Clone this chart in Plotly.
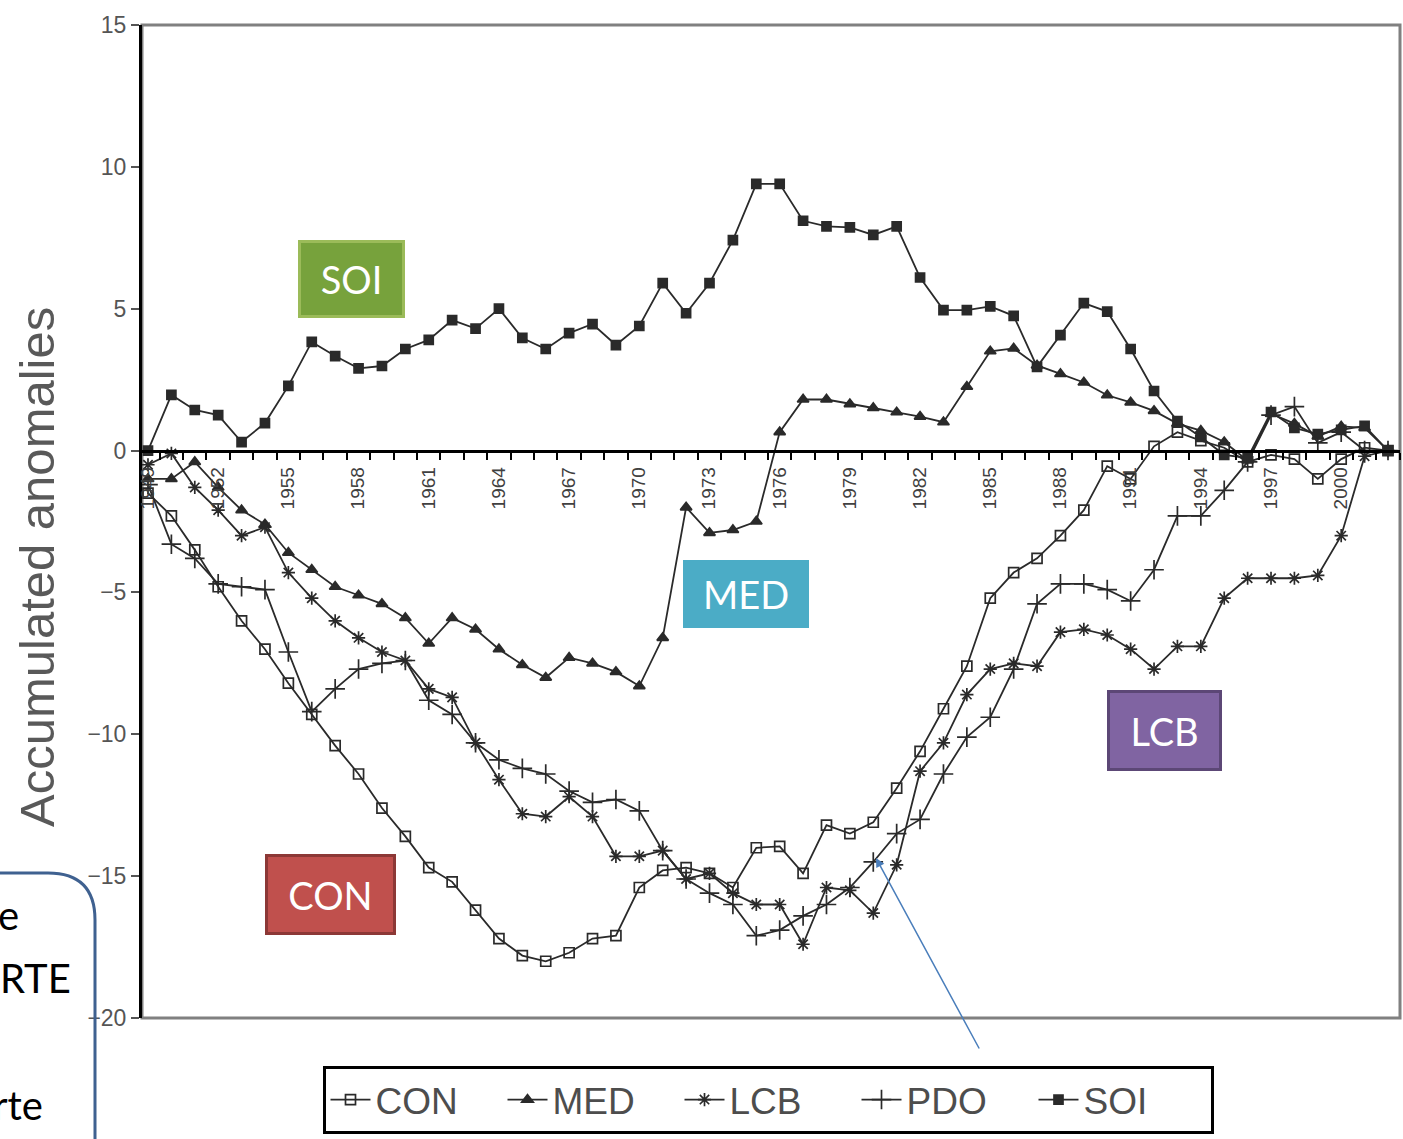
import plotly.graph_objects as go

# Years on the category axis
years = list(range(1949, 2003))

con = [-1.5, -2.3, -3.5, -4.8, -6.0, -7.0, -8.2, -9.3, -10.4, -11.4,
       -12.6, -13.6, -14.7, -15.2, -16.2, -17.2, -17.8, -18.0, -17.7, -17.2,
       -17.1, -15.4, -14.8, -14.7, -14.9, -15.4, -14.0, -13.95, -14.9, -13.2,
       -13.5, -13.1, -11.9, -10.6, -9.1, -7.6, -5.2, -4.3, -3.8, -3.0,
       -2.1, -0.55, -1.0, 0.15, 0.65, 0.35, 0.1, -0.4, -0.15, -0.3,
       -1.0, -0.3, 0.1, 0.0]

med = [-1.0, -1.0, -0.4, -1.3, -2.1, -2.6, -3.6, -4.2, -4.8, -5.1,
       -5.4, -5.9, -6.8, -5.9, -6.3, -7.0, -7.55, -8.0, -7.3, -7.5,
       -7.8, -8.3, -6.6, -2.0, -2.9, -2.8, -2.5, 0.65, 1.8, 1.8,
       1.64, 1.5, 1.35, 1.2, 1.0, 2.25, 3.5, 3.6, 3.0, 2.7,
       2.4, 1.95, 1.7, 1.4, 0.95, 0.7, 0.3, -0.35, 1.3, 0.95,
       0.5, 0.85, 0.8, 0.0]

lcb = [-0.5, -0.1, -1.3, -2.1, -3.0, -2.7, -4.3, -5.2, -6.0, -6.6,
       -7.1, -7.4, -8.4, -8.7, -10.3, -11.6, -12.8, -12.9, -12.2, -12.9,
       -14.3, -14.3, -14.1, -15.1, -14.9, -15.6, -16.0, -16.0, -17.4, -15.4,
       -15.5, -16.3, -14.6, -11.3, -10.3, -8.6, -7.7, -7.5, -7.6, -6.4,
       -6.3, -6.5, -7.0, -7.7, -6.9, -6.9, -5.2, -4.5, -4.5, -4.5,
       -4.4, -3.0, -0.2, 0.0]

pdo = [-1.2, -3.3, -3.8, -4.7, -4.8, -4.9, -7.1, -9.2, -8.4, -7.7,
       -7.5, -7.4, -8.8, -9.3, -10.3, -10.9, -11.2, -11.4, -12.0, -12.4,
       -12.3, -12.7, -14.1, -15.1, -15.6, -16.0, -17.1, -16.9, -16.4, -16.0,
       -15.4, -14.5, -13.5, -13.0, -11.4, -10.1, -9.4, -7.7, -5.4, -4.7,
       -4.7, -4.9, -5.3, -4.2, -2.3, -2.3, -1.4, -0.4, 1.25, 1.55,
       0.27, 0.65, 0.0, 0.0]

soi = [0.0, 1.96, 1.43, 1.25, 0.3, 0.97, 2.28, 3.83, 3.33, 2.9,
       2.98, 3.58, 3.9, 4.6, 4.3, 5.0, 3.97, 3.58, 4.14, 4.46,
       3.72, 4.39, 5.9, 4.84, 5.9, 7.42, 9.4, 9.4, 8.1, 7.9,
       7.87, 7.6, 7.9, 6.1, 4.95, 4.95, 5.08, 4.75, 2.95, 4.07,
       5.2, 4.9, 3.58, 2.1, 1.04, 0.48, -0.15, -0.26, 1.36, 0.8,
       0.58, 0.73, 0.87, 0.0]

series_names = ["CON", "MED", "LCB", "PDO", "SOI"]
series_values = [con, med, lcb, pdo, soi]
series_symbols = ["square-open", "triangle-up", "asterisk-open", "cross-thin-open", "square"]
series_sizes = [10, 10, 11, 14, 9]

# label every third year, a tick between every pair of years
tick_labels = [str(y) if (y - 1949) % 3 == 0 else "" for y in years]

# plot-area geometry in page pixels
W, H = 1403, 1139
L, R, T, B = 142, 1400, 25, 1018


def px(x):
    return (x - L) / (R - L)


def py(y):
    return (B - y) / (B - T)


fig = go.Figure()
for name, vals, sym, sz in zip(series_names, series_values, series_symbols, series_sizes):
    fig.add_trace(go.Scatter(
        x=years, y=vals, name=name, mode="lines+markers",
        line=dict(color="#2a2a2a", width=1.8),
        marker=dict(symbol=sym, size=sz, color="#2a2a2a",
                    line=dict(color="#2a2a2a", width=1.7)),
    ))

fig.update_layout(
    width=W, height=H,
    margin=dict(l=L, r=W - R, t=T, b=H - B),
    paper_bgcolor="white", plot_bgcolor="white",
    showlegend=True,
    legend=dict(
        orientation="h", x=px(768), xanchor="center", y=py(1066), yanchor="top",
        bordercolor="black", borderwidth=3, bgcolor="white",
        font=dict(family="Liberation Sans Narrow, Arial", size=37, color="#4d4d4d"),
        entrywidth=122, entrywidthmode="pixels", itemwidth=40,
    ),
    xaxis=dict(
        range=[1948.744, 2002.513],
        tickmode="array",
        tickvals=[y + 0.5 for y in years],
        ticktext=tick_labels,
        ticklabelshift=-12,
        tickangle=-90,
        ticks="outside", ticklen=7, tickwidth=2, tickcolor="black",
        showline=True, linecolor="black", linewidth=3,
        showgrid=False, zeroline=False,
        anchor="free", position=20 / 35,
        tickfont=dict(family="Arial", size=19, color="#404040"),
    ),
    yaxis=dict(
        range=[-20, 15], dtick=5, tick0=0,
        ticks="outside", ticklen=8, tickwidth=2, tickcolor="#555555",
        showline=True, linecolor="black", linewidth=3,
        showgrid=False, zeroline=False,
        tickfont=dict(family="Arial", size=23, color="#555555"),
    ),
    shapes=[
        # grey frame around the plotting area
        dict(type="rect", xref="paper", yref="paper", x0=0, x1=1, y0=0, y1=1,
             line=dict(color="#808080", width=3), layer="below"),
        # edge of the neighbouring rounded call-out
        dict(type="path", xref="paper", yref="paper",
             path=f"M {px(-10)} {py(873)} L {px(48)} {py(873)} "
                  f"Q {px(95)} {py(873)} {px(95)} {py(920)} L {px(95)} {py(1145)}",
             line=dict(color="#3f6190", width=3)),
    ],
)

annotations = [
    dict(text="Accumulated anomalies", x=px(37), y=py(567), textangle=-90,
         font=dict(family="Arial", size=49, color="#595959")),
]

# coloured series tags
tags = [
    ("SOI", 351, 279, 107, 78, "#77a23c", "#9bbb59"),
    ("MED", 746, 594, 126, 68, "#4bacc6", "#4bacc6"),
    ("LCB", 1164, 730, 115, 81, "#8064a2", "#5c4776"),
    ("CON", 330, 894, 131, 81, "#c0504d", "#8c3836"),
]
for text, cx, cy, w, h, fill, edge in tags:
    annotations.append(dict(
        text=text, x=px(cx), y=py(cy), width=w - 6, height=h - 6,
        bgcolor=fill, bordercolor=edge, borderwidth=3, borderpad=0,
        font=dict(family="Lato, Open Sans", size=38, color="white"),
    ))

# text of the neighbouring call-out
for text, xr, cy in [("e", 21, 915), ("RTE", 73, 978), ("rte", 45, 1105)]:
    annotations.append(dict(text=text, x=px(xr), y=py(cy), xanchor="right",
                            font=dict(family="Lato, Open Sans", size=40, color="black")))

# pointer to the PDO curve
annotations.append(dict(
    text="", x=px(876), y=py(858), ax=980 - 876, ay=1050 - 858,
    showarrow=True, arrowhead=2, arrowsize=1.2, arrowwidth=1.5, arrowcolor="#4a7ebb",
))

for a in annotations:
    a.setdefault("xref", "paper")
    a.setdefault("yref", "paper")
    a.setdefault("xanchor", "center")
    a.setdefault("yanchor", "middle")
    a.setdefault("showarrow", False)
fig.update_layout(annotations=annotations)

fig.write_html("out.html")
